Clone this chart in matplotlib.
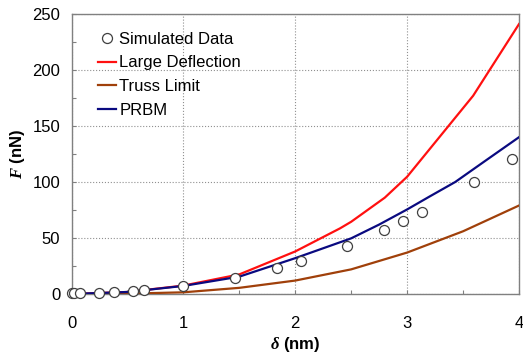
import numpy as np
import matplotlib
matplotlib.use("Agg")
import matplotlib.pyplot as plt
from matplotlib.ticker import MultipleLocator

plt.rcParams["font.family"] = ["Liberation Sans", "DejaVu Sans"]
plt.rcParams["mathtext.fontset"] = "custom"
plt.rcParams["mathtext.it"] = "Liberation Serif:italic:bold"

# Simulated data points
sim_x = [0.0, 0.02, 0.08, 0.25, 0.38, 0.55, 0.65, 1.0, 1.46, 1.84, 2.05, 2.46, 2.79, 2.96, 3.13, 3.60, 3.94]
sim_f = [0.5, 0.5, 0.8, 1.2, 1.8, 2.7, 3.3, 6.9, 14, 23, 29.7, 43, 57.4, 65.4, 73.4, 99.7, 120.5]

# Model curves
large_x = [0, 0.5, 1.0, 1.5, 2.0, 2.4, 2.5, 2.8, 3.0, 3.59, 4.0]
large_f = [0, 1.8, 7.5, 17.5, 38, 58.6, 64.5, 86, 104.7, 177, 241]

truss_x = [0, 0.5, 1.0, 1.5, 2.0, 2.5, 3.0, 3.5, 4.0]
truss_f = [0, 0.3, 1.5, 5.5, 12, 22, 37, 56, 79]

prbm_x = [0, 0.5, 1.0, 1.5, 2.0, 2.5, 2.75, 3.0, 3.2, 3.43, 3.7, 4.0]
prbm_f = [0, 1.8, 7.2, 15.5, 32, 49.7, 62, 75.5, 87, 100, 119, 140]

fig = plt.figure(figsize=(5.23, 3.56), dpi=100)
ax = fig.add_axes([71.5 / 523, (356 - 294) / 356, (519 - 71.5) / 523, (294 - 14) / 356])

ax.plot(sim_x, sim_f, "o", ms=7.2, mfc="white", mec="#404040", mew=0.9,
        label="Simulated Data", zorder=5, clip_on=False)
ax.plot(large_x, large_f, color="#ff1010", lw=1.6, label="Large Deflection", zorder=3)
ax.plot(truss_x, truss_f, color="#a0400a", lw=1.6, label="Truss Limit", zorder=3)
ax.plot(prbm_x, prbm_f, color="#0a0a80", lw=1.6, label="PRBM", zorder=4)

ax.set_xlim(0, 4)
ax.set_ylim(0, 250)
ax.xaxis.set_major_locator(MultipleLocator(1))
ax.xaxis.set_minor_locator(MultipleLocator(0.5))
ax.yaxis.set_major_locator(MultipleLocator(50))
ax.yaxis.set_minor_locator(MultipleLocator(25))
ax.tick_params(which="both", direction="in", colors="#808080", labelcolor="black",
               labelsize=12, length=3, width=0.8)
ax.tick_params(axis="x", pad=16)
ax.tick_params(axis="y", pad=8)
ax.grid(True, which="major", ls=":", color="#909090", lw=0.8)

for s in ax.spines.values():
    s.set_color("#808080")
    s.set_linewidth(1.0)

ax.set_xlabel(r"$\mathit{\delta}$ (nm)", fontsize=12, fontweight="bold", labelpad=3)
ax.set_ylabel(r"$\mathit{F}$ (nN)", fontsize=12, fontweight="bold", labelpad=4)

ax.legend(loc="upper left", frameon=False, fontsize=12, handlelength=1.1,
          handletextpad=0.2, labelspacing=0.52, borderaxespad=0.5,
          bbox_to_anchor=(0.025, 0.99))

fig.savefig("out.png", dpi=100)
